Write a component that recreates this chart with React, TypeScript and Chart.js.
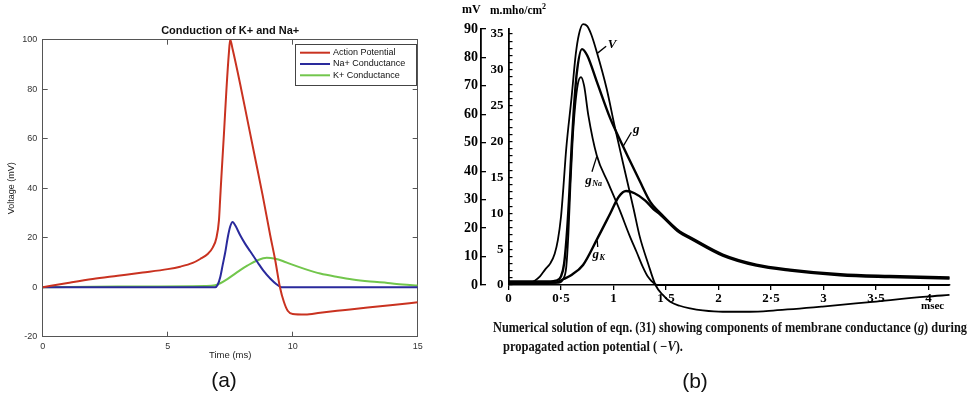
import React, { useEffect, useLayoutEffect, useRef } from 'react';
import { Chart, registerables } from 'chart.js';

Chart.register(...registerables);

// ---------- Panel (a): Conduction of K+ and Na+ ----------
const aTitle = 'Conduction of K+ and Na+';
const aSeriesLabels = ['Action Potential', 'Na+ Conductance', 'K+ Conductance'];
const apTime = [0, 1, 2, 3, 4, 5, 5.5, 6, 6.3, 6.6, 6.8, 6.95, 7.05, 7.1, 7.15, 7.25, 7.35, 7.45, 7.5, 7.6, 7.9, 8.2, 8.5, 8.8, 9.1, 9.3, 9.49, 9.65, 9.8, 10, 10.5, 11.1, 12, 13, 14, 15];
const apVolt = [0, 1.7, 3.3, 4.6, 5.9, 7.3, 8.3, 9.8, 11.4, 13.4, 16, 20, 27, 36, 45, 62, 80, 95, 100, 96, 82, 67, 52, 37, 21, 11, 0, -6, -9.5, -10.8, -11, -10.3, -9.3, -8.2, -7.2, -6.1];
const naTime = [0, 6.9, 7.0, 7.1, 7.2, 7.3, 7.4, 7.5, 7.6, 7.7, 7.9, 8.1, 8.3, 8.6, 8.82, 9.1, 9.35, 9.55, 15];
const naVal = [0, 0, 1, 4, 9, 14, 20, 24.5, 26.3, 25, 21, 17.5, 14.5, 10, 6.8, 3.5, 1.2, 0, 0];
const kTime = [0, 3, 6.5, 6.9, 7.1, 7.4, 7.7, 7.9, 8.2, 8.6, 8.96, 9.3, 9.6, 9.9, 10.5, 11.1, 11.8, 12.4, 13.1, 13.8, 14.4, 15];
const kVal = [0, 0.3, 0.5, 0.8, 1.6, 3.4, 5.5, 6.9, 8.8, 10.9, 11.9, 11.5, 10.6, 9.4, 7.3, 5.5, 4.1, 3.1, 2.3, 1.7, 1.1, 0.7];
const aXTitle = 'Time (ms)';
const aYTitle = 'Voltage (mV)';

// ---------- Panel (b): numerical solution, conductances and -V ----------
const vTime = [0, 0.2, 0.25, 0.3, 0.35, 0.4, 0.44, 0.47, 0.5, 0.52, 0.55, 0.6, 0.64, 0.67, 0.71, 0.75, 0.79, 0.84, 0.935, 1.01, 1.09, 1.19, 1.25, 1.33, 1.4, 1.47, 1.54, 1.63, 1.73, 1.85, 2.04, 2.3, 2.52, 2.99, 3.47, 3.98, 4.2];
const vMinus = [0.8, 0.8, 1.5, 3, 5.5, 7.7, 11, 15.8, 24, 33, 48, 65.7, 81, 88, 91.7, 91, 87.9, 82, 69, 56, 43, 27, 17, 7.5, 0, -3.5, -5.9, -7.3, -8.2, -8.9, -9.4, -9.4, -9.0, -7.6, -5.9, -4.1, -3.5];
const gTime = [0, 0.4, 0.45, 0.5, 0.53, 0.56, 0.58, 0.6, 0.62, 0.65, 0.7, 0.75, 0.84, 0.97, 1.06, 1.14, 1.25, 1.35, 1.44, 1.63, 1.73, 2.04, 2.36, 2.68, 3.16, 3.63, 4.2];
const gVal = [0.5, 0.5, 0.6, 1.2, 3, 8, 13, 19, 24, 29.5, 32.9, 32, 28.4, 23.2, 20.3, 17.8, 14.5, 11.6, 10.1, 7.45, 6.65, 4.25, 2.85, 2.15, 1.5, 1.25, 1.05];
const gNaTime = [0, 0.48, 0.52, 0.55, 0.57, 0.59, 0.61, 0.635, 0.66, 0.69, 0.72, 0.76, 0.84, 0.95, 1.06, 1.15, 1.22, 1.28, 1.33, 1.38, 1.42, 4.2];
const gNaVal = [0.3, 0.3, 0.8, 2.5, 7, 14, 20, 25, 28, 29, 27.8, 23.7, 18.1, 14.2, 10.4, 7.0, 4.6, 2.5, 1.1, 0.3, 0, 0];
const gKTime = [0, 0.45, 0.52, 0.6, 0.71, 0.84, 0.97, 1.05, 1.12, 1.2, 1.3, 1.38, 1.44, 1.63, 1.73, 2.04, 2.36, 2.68, 3.16, 3.63, 4.2];
const gKVal = [0.3, 0.35, 0.8, 1.4, 2.8, 6.3, 10.0, 12.3, 13.1, 12.8, 11.8, 10.6, 9.9, 7.3, 6.5, 4.1, 2.7, 2.0, 1.35, 1.1, 0.9];
const bXTicks = [0, 0.5, 1, 1.5, 2, 2.5, 3, 3.5, 4];
const bXTickLabels = ['0', '0·5', '1', '1·5', '2', '2·5', '3', '3·5', '4'];
const bGTicks = Array.from({ length: 36 }, (_, i) => i);
const bVTicks = [0, 10, 20, 30, 40, 50, 60, 70, 80, 90];
const bNotes = [
  { main: 'V', sub: '', from: [0.845, 32.3], to: [0.93, 33.3], at: [0.945, 33.5] },
  { main: 'g', sub: '', from: [1.09, 19.3], to: [1.17, 21.3], at: [1.185, 21.6] },
  { main: 'g', sub: 'Na', from: [0.84, 17.9], to: [0.795, 15.8], at: [0.73, 14.6] },
  { main: 'g', sub: 'K', from: [0.845, 6.2], to: [0.85, 5.3], at: [0.8, 4.3] },
];
const captionLine1a = 'Numerical solution of eqn. (31) showing components of membrane conductance (';
const captionLine1b = 'g';
const captionLine1c = ') during';
const captionLine2a = 'propagated action potential ( \u2212';
const captionLine2b = 'V';
const captionLine2c = ').';

const SANS = '"Liberation Sans", Arial, sans-serif';
const SERIF = '"Liberation Serif", "Times New Roman", serif';
const RED = '#c93220';
const BLUE = '#2a2a9c';
const GREEN = '#72c64c';
const AX = '#555';

const pts = (xs: number[], ys: number[]) => xs.map((x, i) => ({ x, y: ys[i] }));

const aLegendPlugin = {
  id: 'aLegend',
  afterDraw(chart: any) {
    const { ctx, chartArea } = chart;
    const w = 121, h = 41;
    const x0 = chartArea.right - w - 1.7;
    const y0 = chartArea.top + 4.3;
    ctx.save();
    ctx.fillStyle = '#fff';
    ctx.fillRect(x0, y0, w, h);
    ctx.strokeStyle = '#444';
    ctx.lineWidth = 1;
    ctx.strokeRect(Math.round(x0) + 0.5, Math.round(y0) + 0.5, w, h);
    chart.data.datasets.forEach((ds: any, i: number) => {
      const y = y0 + 8.7 + i * 11.3;
      ctx.strokeStyle = ds.borderColor;
      ctx.lineWidth = 2;
      ctx.beginPath();
      ctx.moveTo(x0 + 5, y);
      ctx.lineTo(x0 + 35, y);
      ctx.stroke();
      ctx.fillStyle = '#111';
      ctx.font = '9px ' + SANS;
      ctx.textBaseline = 'middle';
      ctx.textAlign = 'left';
      ctx.fillText(ds.label, x0 + 38, y);
    });
    ctx.restore();
  },
};

const bNotesPlugin = {
  id: 'bNotes',
  afterDatasetsDraw(chart: any) {
    const { ctx } = chart;
    const xs = chart.scales.x;
    const ys = chart.scales.y;
    const px = (p: number[]) => [xs.getPixelForValue(p[0]), ys.getPixelForValue(p[1])];
    ctx.save();
    ctx.strokeStyle = '#000';
    ctx.fillStyle = '#000';
    ctx.lineWidth = 1.3;
    bNotes.forEach((n) => {
      const a = px(n.from), b = px(n.to), t = px(n.at);
      ctx.beginPath();
      ctx.moveTo(a[0], a[1]);
      ctx.lineTo(b[0], b[1]);
      ctx.stroke();
      ctx.textBaseline = 'middle';
      ctx.textAlign = 'left';
      ctx.font = 'italic bold 13px ' + SERIF;
      ctx.fillText(n.main, t[0], t[1]);
      if (n.sub) {
        const w = ctx.measureText(n.main).width;
        ctx.font = 'italic bold 8px ' + SERIF;
        ctx.fillText(n.sub, t[0] + w + 0.5, t[1] + 4);
      }
    });
    ctx.restore();
  },
};

function makeA(canvas: HTMLCanvasElement) {
  const tickFont = { family: SANS, size: 9 };
  return new Chart(canvas, {
    type: 'line',
    data: {
      datasets: [
        { label: aSeriesLabels[0], data: pts(apTime, apVolt), borderColor: RED, borderWidth: 2, pointRadius: 0, cubicInterpolationMode: 'monotone' },
        { label: aSeriesLabels[1], data: pts(naTime, naVal), borderColor: BLUE, borderWidth: 2, pointRadius: 0, cubicInterpolationMode: 'monotone' },
        { label: aSeriesLabels[2], data: pts(kTime, kVal), borderColor: GREEN, borderWidth: 2, pointRadius: 0, cubicInterpolationMode: 'monotone' },
      ],
    } as any,
    options: {
      animation: false,
      responsive: false,
      events: [],
      layout: { padding: { left: 0, right: 22.3, top: 0, bottom: 0 } },
      plugins: {
        legend: { display: false },
        tooltip: { enabled: false },
        title: {
          display: true,
          text: aTitle,
          fullSize: false,
          color: '#111',
          font: { family: SANS, size: 11, weight: 'bold' },
          padding: { top: 24.1, bottom: 2.4 },
        },
      },
      scales: {
        x: {
          type: 'linear', min: 0, max: 15, position: 'bottom',
          ticks: { stepSize: 5, font: tickFont, color: '#333', padding: 9, maxRotation: 0 },
          grid: { drawOnChartArea: false, tickLength: -5, color: AX },
          border: { color: AX, width: 1 },
          title: { display: true, text: aXTitle, color: '#222', font: { family: SANS, size: 9.5 }, padding: { top: 0, bottom: 8.6 } },
          afterFit: (s: any) => { s.height = 33.3; },
        },
        x2: {
          type: 'linear', min: 0, max: 15, position: 'top',
          ticks: { stepSize: 5, display: false },
          grid: { drawOnChartArea: false, tickLength: -5, color: AX },
          border: { color: AX, width: 1 },
          afterFit: (s: any) => { s.height = 0; },
        },
        y: {
          type: 'linear', min: -20, max: 100, position: 'left',
          ticks: { stepSize: 20, font: tickFont, color: '#333', padding: 10.5 },
          grid: { drawOnChartArea: false, tickLength: -5, color: AX },
          border: { color: AX, width: 1 },
          title: { display: true, text: aYTitle, color: '#222', font: { family: SANS, size: 9 }, padding: { top: 6.6, bottom: 0 } },
          afterFit: (s: any) => { s.width = 42.7; },
        },
        y2: {
          type: 'linear', min: -20, max: 100, position: 'right',
          ticks: { stepSize: 20, display: false },
          grid: { drawOnChartArea: false, tickLength: -5, color: AX },
          border: { color: AX, width: 1 },
          afterFit: (s: any) => { s.width = 0; },
        },
      },
    } as any,
    plugins: [aLegendPlugin],
  });
}

function makeB(canvas: HTMLCanvasElement) {
  const line = { borderColor: '#000', pointRadius: 0, cubicInterpolationMode: 'monotone', clip: false };
  return new Chart(canvas, {
    type: 'line',
    data: {
      datasets: [
        { ...line, label: '-V', data: pts(vTime, vMinus), borderWidth: 1.8, yAxisID: 'yV' },
        { ...line, label: 'g', data: pts(gTime, gVal), borderWidth: 2.4, yAxisID: 'y' },
        { ...line, label: 'gNa', data: pts(gNaTime, gNaVal), borderWidth: 1.8, yAxisID: 'y' },
        { ...line, label: 'gK', data: pts(gKTime, gKVal), borderWidth: 2.4, yAxisID: 'y' },
      ],
    } as any,
    options: {
      animation: false,
      responsive: false,
      events: [],
      layout: { padding: { left: 0, right: 18.5, top: 29, bottom: 0 } },
      plugins: { legend: { display: false }, tooltip: { enabled: false }, title: { display: false } },
      scales: {
        x: {
          type: 'linear', min: 0, max: 4.2, position: 'bottom',
          afterBuildTicks: (s: any) => { s.ticks = bXTicks.map((v) => ({ value: v })); },
          ticks: { autoSkip: false, maxRotation: 0, padding: 1, color: '#000', font: { family: SERIF, size: 13, weight: 'bold' }, callback: (_v: any, i: number) => bXTickLabels[i] },
          grid: { drawOnChartArea: false, tickLength: 5, color: '#000', lineWidth: 1.3 },
          border: { color: '#000', width: 1.6 },
          afterFit: (s: any) => { s.height = 35; },
        },
        y: {
          type: 'linear', min: 0, max: 35.7, position: 'left', weight: 0,
          afterBuildTicks: (s: any) => { s.ticks = bGTicks.map((v) => ({ value: v })); },
          ticks: { autoSkip: false, padding: 9, color: '#000', font: { family: SERIF, size: 13, weight: 'bold' }, callback: (v: any) => (v % 5 === 0 ? String(v) : '') },
          grid: { drawOnChartArea: false, tickLength: -4, color: '#000', lineWidth: 1.2 },
          border: { color: '#000', width: 1.8 },
          afterFit: (s: any) => { s.width = 27.5; },
        },
        yV: {
          type: 'linear', min: 0, max: 90, position: 'left', weight: 1,
          afterBuildTicks: (s: any) => { s.ticks = bVTicks.map((v) => ({ value: v })); },
          ticks: { autoSkip: false, padding: 8, color: '#000', font: { family: SERIF, size: 14, weight: 'bold' } },
          grid: { drawOnChartArea: false, tickLength: -5, color: '#000', lineWidth: 1.3 },
          border: { color: '#000', width: 1.8 },
          afterFit: (s: any) => { s.width = 21; },
        },
      },
    } as any,
    plugins: [bNotesPlugin],
  });
}

function FitText(props: { left: number; top: number; width: number; style?: any; children: any }) {
  const ref = useRef<HTMLSpanElement>(null);
  useLayoutEffect(() => {
    const el = ref.current;
    if (!el) return;
    el.style.transform = 'none';
    const w = el.getBoundingClientRect().width;
    if (w > 0) el.style.transform = `scaleX(${props.width / w})`;
  }, [props.width]);
  return (
    <span
      ref={ref}
      style={{ position: 'absolute', left: props.left, top: props.top, whiteSpace: 'nowrap', display: 'inline-block', transformOrigin: '0 0', ...props.style }}
    >
      {props.children}
    </span>
  );
}

export default function App() {
  const aRef = useRef<HTMLCanvasElement>(null);
  const bRef = useRef<HTMLCanvasElement>(null);
  useEffect(() => {
    const a = makeA(aRef.current!);
    const b = makeB(bRef.current!);
    return () => {
      a.destroy();
      b.destroy();
    };
  }, []);
  const capStyle = { fontFamily: SERIF, fontWeight: 'bold', fontSize: 14, color: '#111' };
  return (
    <div style={{ position: 'absolute', left: 0, top: 0, width: 968, height: 397, background: '#fff', overflow: 'hidden' }}>
      <canvas ref={aRef} width={440} height={370} style={{ position: 'absolute', left: 0, top: 0, width: 440, height: 370 }} />
      <canvas ref={bRef} width={508} height={320} style={{ position: 'absolute', left: 460, top: 0, width: 508, height: 320 }} />
      <span style={{ position: 'absolute', left: 462, top: 2, fontFamily: SERIF, fontWeight: 'bold', fontSize: 12, color: '#000' }}>mV</span>
      <span style={{ position: 'absolute', left: 490, top: 2, fontFamily: SERIF, fontWeight: 'bold', fontSize: 11.5, color: '#000' }}>
        m.mho/cm<sup style={{ fontSize: 8 }}>2</sup>
      </span>
      <span style={{ position: 'absolute', left: 921, top: 299, fontFamily: SERIF, fontWeight: 'bold', fontSize: 11, color: '#000' }}>msec</span>
      <FitText left={493} top={320} width={474} style={capStyle}>
        {captionLine1a}<i>{captionLine1b}</i>{captionLine1c}
      </FitText>
      <FitText left={503} top={339} width={180} style={capStyle}>
        {captionLine2a}<i>{captionLine2b}</i>{captionLine2c}
      </FitText>
      <div style={{ position: 'absolute', left: 174, top: 368, width: 100, textAlign: 'center', fontFamily: SANS, fontSize: 21, color: '#111' }}>(a)</div>
      <div style={{ position: 'absolute', left: 645, top: 369, width: 100, textAlign: 'center', fontFamily: SANS, fontSize: 21, color: '#111' }}>(b)</div>
    </div>
  );
}
